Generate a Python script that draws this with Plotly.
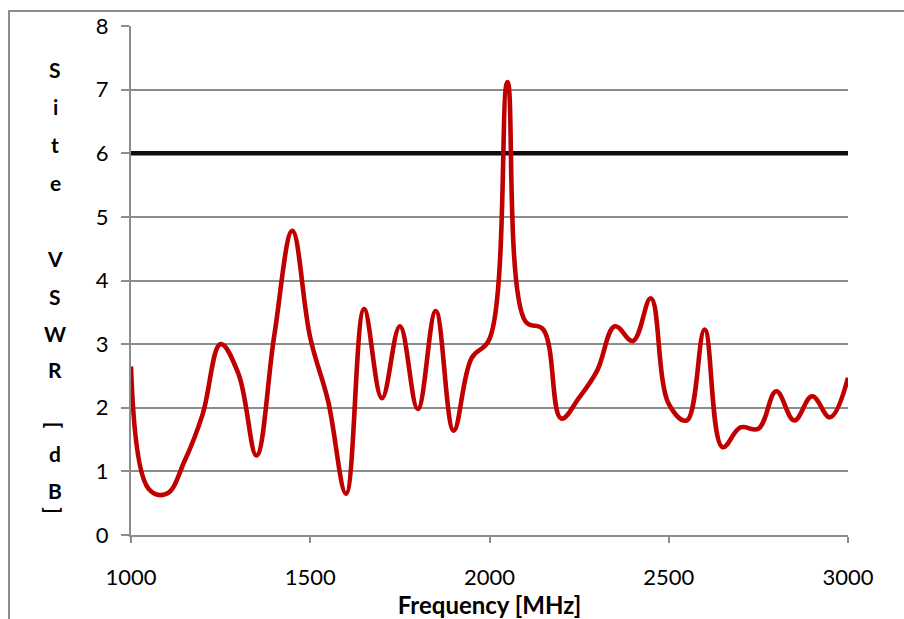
import plotly.graph_objects as go

freq = list(range(1000, 3001, 50))
vswr = [2.65, 0.72, 0.65, 1.17, 1.9, 3.0, 2.53, 1.25, 3.15, 4.78,
        3.1, 2.1, 0.65, 3.55, 2.15, 3.28, 1.98, 3.52, 1.64, 2.78,
        3.08, 7.12, 3.36, 3.23, 1.83, 2.16, 2.58, 3.28, 3.05, 3.72,
        2.06, 1.8, 3.23, 1.38, 1.69, 1.67, 2.26, 1.8, 2.18, 1.85, 2.47]
limit_freq = [1000, 3000]
limit_val = [6, 6]
x_ticks = [1000, 1500, 2000, 2500, 3000]
y_ticks = [0, 1, 2, 3, 4, 5, 6, 7, 8]

W, H = 904, 619
L, R, T, B = 131, 56, 23, 84
PH = H - T - B
PW = W - L - R

fig = go.Figure()
fig.add_trace(go.Scatter(x=limit_freq, y=limit_val, mode="lines",
                         line=dict(color="#0d0d0d", width=4.5), showlegend=False))
fig.add_trace(go.Scatter(x=freq, y=vswr, mode="lines",
                         line=dict(color="#c00000", width=4.6, shape="spline", smoothing=1.1),
                         showlegend=False))

grey = "#8c8c8c"
fig.update_layout(
    width=W, height=H,
    margin=dict(l=L, r=R, t=T, b=B),
    paper_bgcolor="white", plot_bgcolor="white",
    font=dict(family="Lato, sans-serif", color="#000000"),
    xaxis=dict(range=[1000, 3000], tickvals=x_ticks, ticks="outside", ticklen=6,
               tickcolor=grey, tickwidth=1.5, showgrid=False, zeroline=False,
               showline=True, linecolor=grey, linewidth=2,
               tickfont=dict(size=22), ticklabelstandoff=16,
               title=dict(text="<b>Frequency [MHz]</b>", font=dict(size=24), standoff=0)),
    yaxis=dict(range=[0, 8], tickvals=y_ticks, ticks="outside", ticklen=8,
               tickcolor=grey, tickwidth=1.5, showgrid=True, gridcolor=grey, gridwidth=1.5,
               zeroline=False, showline=True, linecolor=grey, linewidth=2,
               tickfont=dict(size=22), ticklabelstandoff=8),
)

# outer chart frame
fig.add_shape(type="rect", xref="paper", yref="paper",
              x0=(9 - L) / PW, x1=(W + 10 - L) / PW,
              y0=(T + PH - (H + 10)) / PH, y1=(T + PH - 8) / PH,
              line=dict(color=grey, width=2), fillcolor="rgba(0,0,0,0)", layer="below")

# stacked vertical y-axis title
letters = [("S", 67, 0), ("i", 104, 0), ("t", 142, 0), ("e", 180, 0),
           ("V", 257, 0), ("S", 295, 0), ("W", 332, 0), ("R", 369, 0),
           ("[", 424, 90), ("d", 453, 0), ("B", 490, 0), ("]", 510, 90)]
for ch, ypx, ang in letters:
    fig.add_annotation(text="<b>%s</b>" % ch, xref="paper", yref="paper",
                       x=(55 - L) / PW, y=(T + PH - ypx) / PH,
                       showarrow=False, textangle=ang,
                       font=dict(size=21, family="Lato, sans-serif"),
                       xanchor="center", yanchor="middle")

fig.write_html("out.html")
